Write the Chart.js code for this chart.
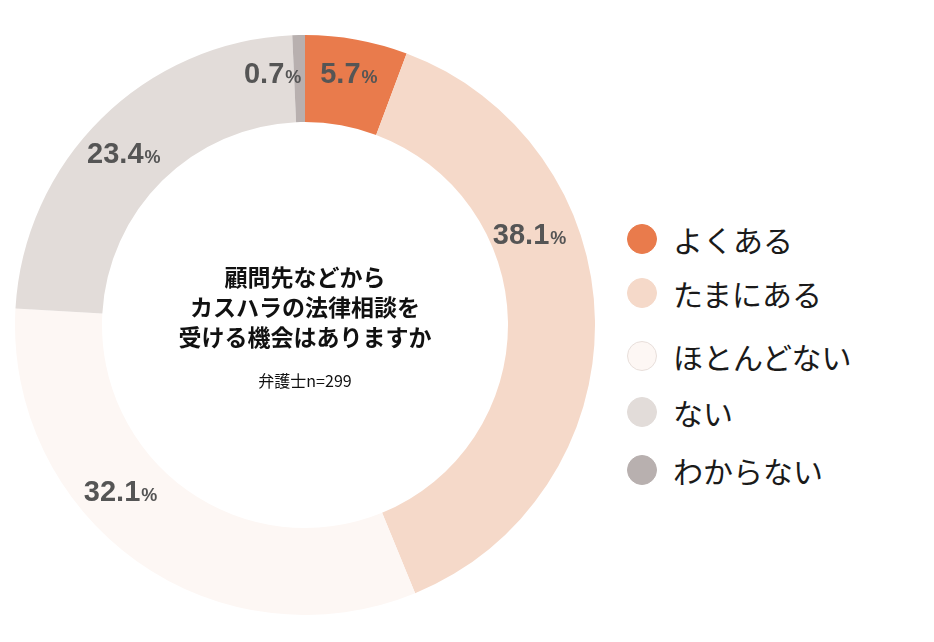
<!DOCTYPE html>
<html>
<head>
<meta charset="utf-8">
<script src="https://cdn.jsdelivr.net/npm/chart.js@4.4.1/dist/chart.umd.min.js"></script>
<style>
  html, body { margin: 0; padding: 0; background: #fff; }
  body { width: 934px; height: 642px; position: relative; overflow: hidden; font-family: "Noto Sans CJK JP", "Noto Sans", sans-serif; }
  #wrap { position: absolute; left: 15px; top: 35px; width: 580px; height: 580px; }
  #center { position: absolute; left: 105px; width: 400px; top: 261px; text-align: center; color: #111; }
  #center .t { font-weight: bold; font-size: 23px; line-height: 30px; }
  #center .s { font-size: 16px; margin-top: 19px; line-height: 20px; }
  .lg { position: absolute; left: 627px; height: 30px; display: flex; align-items: center; font-size: 30px; color: #1a1a1a; white-space: nowrap; }
  .lg .dot { width: 30px; height: 30px; border-radius: 50%; box-sizing: border-box; margin-right: 16px; flex: none; }
</style>
</head>
<body>
<div id="wrap"><canvas id="c" width="580" height="580"></canvas></div>
<div id="center">
  <div class="t">顧問先などから<br>カスハラの法律相談を<br>受ける機会はありますか</div>
  <div class="s">弁護士n=299</div>
</div>
<script>
const categories = ["よくある", "たまにある", "ほとんどない", "ない", "わからない"];
const values = [5.7, 38.1, 32.1, 23.4, 0.7];
const colors = ["#E97B4C", "#F5D9C9", "#FDF7F4", "#E2DCD9", "#B8B0AF"];
const legendBorders = ["#E97B4C", "#F5D9C9", "#E8DFDB", "#E2DCD9", "#B8B0AF"];

// layout-only settings (not data)
const labelAnchorFrac = [0.48, 0.345, 0.61, 0.48, -1.9];
const labelRadiusShift = [10, -4, 1, 4, 8];
const legendTops = [224, 278, 341, 397, 455];

const legendHost = document.body;
categories.forEach((name, i) => {
  const d = document.createElement('div');
  d.className = 'lg';
  d.style.top = legendTops[i] + 'px';
  const dot = document.createElement('span');
  dot.className = 'dot';
  dot.style.background = colors[i];
  dot.style.border = '1px solid ' + legendBorders[i];
  d.appendChild(dot);
  d.appendChild(document.createTextNode(name));
  legendHost.appendChild(d);
});

const pctLabels = {
  id: 'pctLabels',
  afterDatasetsDraw(chart) {
    const ctx = chart.ctx;
    const meta = chart.getDatasetMeta(0);
    meta.data.forEach((arc, i) => {
      const p = arc.getProps(['x', 'y', 'startAngle', 'endAngle', 'innerRadius', 'outerRadius'], true);
      const a = p.startAngle + (p.endAngle - p.startAngle) * labelAnchorFrac[i];
      const r = (p.innerRadius + p.outerRadius) / 2 + labelRadiusShift[i];
      const cx = p.x + Math.cos(a) * r;
      const cy = p.y + Math.sin(a) * r;
      const num = values[i].toFixed(1);
      const bigFont = 'bold 29px "Liberation Sans", Arial, sans-serif';
      const smallFont = 'bold 18px "Liberation Sans", Arial, sans-serif';
      ctx.save();
      ctx.fillStyle = '#555555';
      ctx.textBaseline = 'alphabetic';
      ctx.font = bigFont;
      const w1 = ctx.measureText(num).width;
      ctx.font = smallFont;
      const w2 = ctx.measureText('%').width;
      const x0 = cx - (w1 + 1 + w2) / 2;
      const base = cy + 10.5;
      ctx.textAlign = 'left';
      ctx.font = bigFont;
      ctx.fillText(num, x0, base);
      ctx.font = smallFont;
      ctx.fillText('%', x0 + w1 + 1, base);
      ctx.restore();
    });
  }
};

new Chart(document.getElementById('c'), {
  type: 'doughnut',
  data: {
    labels: categories,
    datasets: [{
      data: values,
      backgroundColor: colors,
      borderWidth: 0,
      hoverOffset: 0
    }]
  },
  options: {
    responsive: false,
    animation: false,
    cutout: '70%',
    rotation: 0,
    layout: { padding: 0 },
    plugins: {
      legend: { display: false },
      tooltip: { enabled: false }
    }
  },
  plugins: [pctLabels]
});
</script>
</body>
</html>
